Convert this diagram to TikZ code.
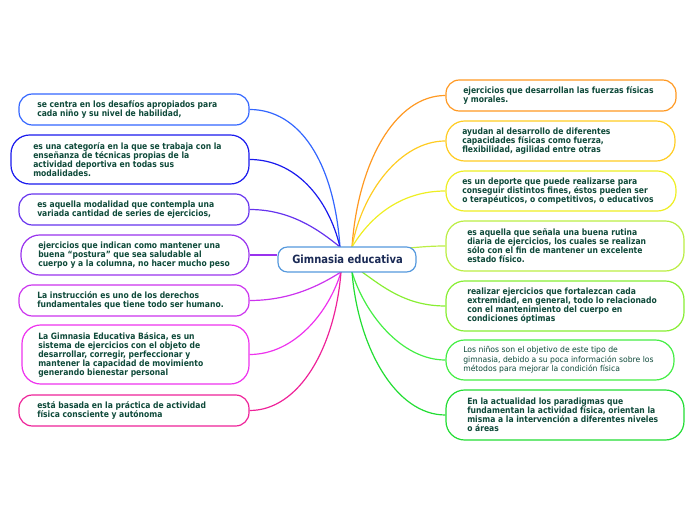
\documentclass[tikz,border=0pt]{standalone}
\usepackage{fontspec}
\newfontfamily\tfont{DejaVu Sans}[FakeStretch=0.88]
\newfontfamily\rfont{DejaVu Sans}[FakeStretch=0.96]
\usetikzlibrary{backgrounds}
\definecolor{txtc}{HTML}{0F4A3A}
\definecolor{navy}{HTML}{1A2A55}
\definecolor{cL1}{HTML}{3366FF}
\definecolor{cL2}{HTML}{1A1AEE}
\definecolor{cL3}{HTML}{6633EE}
\definecolor{cL4}{HTML}{9933EE}
\definecolor{cL5}{HTML}{CC33EE}
\definecolor{cL6}{HTML}{EE33EE}
\definecolor{cL7}{HTML}{EE2299}
\definecolor{cR1}{HTML}{FF9922}
\definecolor{cR2}{HTML}{FFCC22}
\definecolor{cR3}{HTML}{EEEE22}
\definecolor{cR4}{HTML}{BBEE44}
\definecolor{cR5}{HTML}{88EE33}
\definecolor{cR6}{HTML}{44EE44}
\definecolor{cR7}{HTML}{22DD33}
\definecolor{cC}{HTML}{5599DD}
\tikzset{
  bx/.style={draw=#1, line width=0.9pt, fill=white, rounded corners=10pt, inner sep=0pt},
  tallbx/.style={bx=#1, rounded corners=14pt},
  txt/.style={anchor=west, align=left, inner sep=0pt, text=txtc,
    font=\tfont\bfseries\fontsize{6.5}{6.75}\selectfont},
  thin txt/.style={anchor=west, align=left, inner sep=0pt, text=txtc,
    font=\rfont\fontsize{6}{7.1}\selectfont},
  link/.style={draw=#1, line width=0.9pt}
}
\begin{document}
\begin{tikzpicture}[x=0.75pt,y=-0.75pt]
\useasboundingbox (0,0) rectangle (696,520);
% centre
\node[draw=cC, line width=0.9pt, fill=white, rounded corners=7pt, minimum width=138*0.75pt, minimum height=25*0.75pt, inner sep=0pt] (C) at (347,259.5) {};
\node[inner sep=0pt, text=navy, font=\tfont\bfseries\fontsize{8.5}{9}\selectfont] (Ct) at (347.5,259.5) {Gimnasia educativa};
\coordinate (cUL) at (340,247);
\coordinate (cUR) at (352,247);
\coordinate (cLL) at (341,272);
\coordinate (cLR) at (352,272);
\coordinate (cR4) at (409,248);
\coordinate (cR5) at (362,272);

% left boxes
\node[bx=cL1, minimum width=230*0.75pt, minimum height=31*0.75pt] (L1) at (134,109.5) {};
\node[txt] (L1t) at (37,109.5) {se centra en los desafíos apropiados para\\cada niño y su nivel de habilidad,};
\node[tallbx=cL2, minimum width=238*0.75pt, minimum height=49*0.75pt] (L2) at (130,159.5) {};
\node[txt] (L2t) at (33,159.5) {es una categoría en la que se trabaja con la\\enseñanza de técnicas propias de la\\actividad deportiva en todas sus\\modalidades.};
\node[bx=cL3, minimum width=230*0.75pt, minimum height=31*0.75pt] (L3) at (134,209.5) {};
\node[txt] (L3t) at (37,209.5) {es aquella modalidad que contempla una\\variada cantidad de series de ejercicios,};
\node[tallbx=cL4, minimum width=228*0.75pt, minimum height=40*0.75pt] (L4) at (135,255) {};
\node[txt] (L4t) at (38,255) {ejercicios que indican como mantener una\\buena “postura” que sea saludable al\\cuerpo y a la columna, no hacer mucho peso};
\node[bx=cL5, minimum width=230*0.75pt, minimum height=31*0.75pt] (L5) at (134,300.5) {};
\node[txt] (L5t) at (37,300.5) {La instrucción es uno de los derechos\\fundamentales que tiene todo ser humano.};
\node[tallbx=cL6, minimum width=227*0.75pt, minimum height=59*0.75pt] (L6) at (135.5,354.5) {};
\node[txt] (L6t) at (38,354.5) {La Gimnasia Educativa Básica, es un\\sistema de ejercicios con el objeto de\\desarrollar, corregir, perfeccionar y\\mantener la capacidad de movimiento\\generando bienestar personal};
\node[bx=cL7, minimum width=230*0.75pt, minimum height=31*0.75pt] (L7) at (134,410.5) {};
\node[txt] (L7t) at (37,410.5) {está basada en la práctica de actividad\\física consciente y autónoma};

% right boxes
\node[bx=cR1, minimum width=230*0.75pt, minimum height=31*0.75pt] (R1) at (561,95.5) {};
\node[txt] (R1t) at (463,95.5) {ejercicios que desarrollan las fuerzas físicas\\y morales.};
\node[tallbx=cR2, minimum width=229*0.75pt, minimum height=40*0.75pt] (R2) at (560.5,141) {};
\node[txt] (R2t) at (462,141) {ayudan al desarrollo de diferentes\\capacidades físicas como fuerza,\\flexibilidad, agilidad entre otras};
\node[tallbx=cR3, minimum width=230*0.75pt, minimum height=40*0.75pt] (R3) at (561,191) {};
\node[txt] (R3t) at (462,191) {es un deporte que puede realizarse para\\conseguir distintos fines, éstos pueden ser\\o terapéuticos, o competitivos, o educativos};
\node[tallbx=cR4, minimum width=238*0.75pt, minimum height=50*0.75pt] (R4) at (565,246) {};
\node[txt] (R4t) at (467,246) {es aquella que señala una buena rutina\\diaria de ejercicios, los cuales se realizan\\sólo con el fin de mantener un excelente\\estado físico.};
\node[tallbx=cR5, minimum width=238*0.75pt, minimum height=50*0.75pt] (R5) at (565,306) {};
\node[txt] (R5t) at (467,306) {realizar ejercicios que fortalezcan cada\\extremidad, en general, todo lo relacionado\\con el mantenimiento del cuerpo en\\condiciones óptimas};
\node[tallbx=cR6, minimum width=228*0.75pt, minimum height=40*0.75pt] (R6) at (560,360) {};
\node[thin txt] (R6t) at (463,360) {Los niños son el objetivo de este tipo de\\gimnasia, debido a su poca información sobre los\\métodos para mejorar la condición física};
\node[tallbx=cR7, minimum width=238*0.75pt, minimum height=50*0.75pt] (R7) at (565,415) {};
\node[txt] (R7t) at (467,415) {En la actualidad los paradigmas que\\fundamentan la actividad física, orientan la\\misma a la intervención a diferentes niveles\\o áreas};

\begin{scope}[on background layer]
\draw[link=cL1] (L1.east) .. controls +(50,0) and +(-6,-85) .. (cUL);
\draw[link=cL2] (L2.east) .. controls +(45,0) and +(-12,-50) .. (cUL);
\draw[link=cL3] (L3.east) .. controls +(40,0) and +(-22,-18) .. (cUL);
\draw[link=cL4] (L4.east) -- (L4.east -| C.west);
\draw[link=cL5] (L5.east) .. controls +(40,0) and +(-22,14) .. (cLL);
\draw[link=cL6] (L6.east) .. controls +(45,0) and +(-12,40) .. (cLL);
\draw[link=cL7] (L7.east) .. controls +(50,0) and +(-6,75) .. (cLL);
\draw[link=cR1] (R1.west) .. controls +(-50,0) and +(6,-85) .. (cUR);
\draw[link=cR2] (R2.west) .. controls +(-45,0) and +(10,-55) .. (cUR);
\draw[link=cR3] (R3.west) .. controls +(-45,0) and +(18,-30) .. (cUR);
\draw[link=cR4] (R4.west) .. controls +(-15,0) and +(12,-1) .. (cR4);
\draw[link=cR5] (R5.west) .. controls +(-40,0) and +(20,14) .. (cR5);
\draw[link=cR6] (R6.west) .. controls +(-45,0) and +(12,40) .. (cLR);
\draw[link=cR7] (R7.west) .. controls +(-50,0) and +(6,75) .. (cLR);
\end{scope}
\end{tikzpicture}
\end{document}
